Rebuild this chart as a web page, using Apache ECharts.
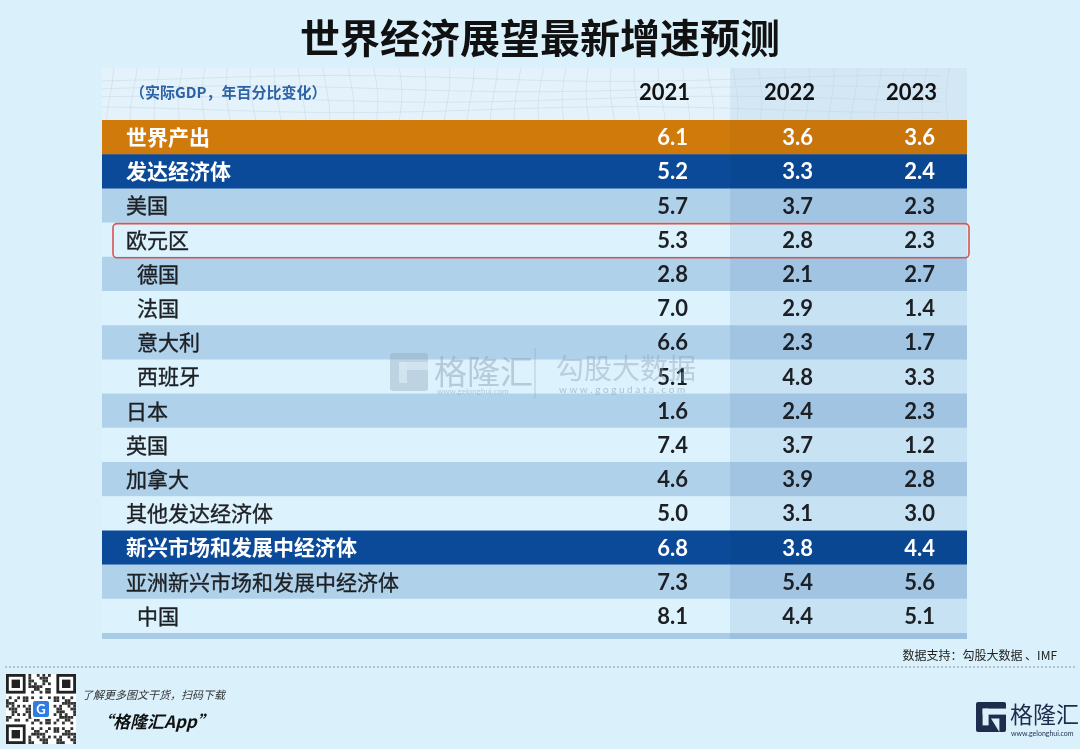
<!DOCTYPE html>
<html><head><meta charset="utf-8">
<script src="https://cdn.jsdelivr.net/npm/echarts@6/dist/echarts.min.js"></script>
<style>html,body{margin:0;padding:0;background:#daf1fc}#c{width:1080px;height:749px}</style>
</head><body><div id="c"></div>
<script>
// ---------------- data ----------------
const chartTitle = '世界经济展望最新增速预测';
const unitNote = '（实际GDP，年百分比变化）';
const years = ['2021', '2022', '2023'];
const rowLabels = ['世界产出','发达经济体','美国','欧元区','德国','法国','意大利','西班牙','日本','英国','加拿大','其他发达经济体','新兴市场和发展中经济体','亚洲新兴市场和发展中经济体','中国'];
const values2021 = [6.1, 5.2, 5.7, 5.3, 2.8, 7.0, 6.6, 5.1, 1.6, 7.4, 4.6, 5.0, 6.8, 7.3, 8.1];
const values2022 = [3.6, 3.3, 3.7, 2.8, 2.1, 2.9, 2.3, 4.8, 2.4, 3.7, 3.9, 3.1, 3.8, 5.4, 4.4];
const values2023 = [3.6, 2.4, 2.3, 2.3, 2.7, 1.4, 1.7, 3.3, 2.3, 1.2, 2.8, 3.0, 4.4, 5.6, 5.1];
const indentedRows = ['德国','法国','意大利','西班牙','中国'];
const worldRows = ['世界产出'];
const groupRows = ['发达经济体','新兴市场和发展中经济体'];
const highlightRow = '欧元区';
const sourceNote = '数据支持：勾股大数据 、IMF';

// ---------------- style / layout ----------------
const FONT = '"Noto Sans CJK SC","Noto Sans",sans-serif';
const NUMFONT = '"Lato","Noto Sans",sans-serif';
const L = { tableW: 865, labelX: 24, indentX: 35, valueRight: [586, 711, 833], shadeStart: 628 };
const C = {
  world: ['#d07a0b', '#c8750c'],
  group: ['#0b4a98', '#0a4792'],
  medium: ['#b0d1ea', '#a0c4e2'],
  light: ['#dcf2fc', '#c6e2f3'],
  header: ['#e4f3fb', '#d3e8f4'],
  bottom: ['#a9cbe6', '#9cc0df']
};
const allValues = [values2021, values2022, values2023];

// stripe kind: alternation restarts after each coloured group row
const rowKinds = (function () {
  let k = 0;
  return rowLabels.map(n => {
    if (worldRows.includes(n)) { k = 0; return 'world'; }
    if (groupRows.includes(n)) { k = 0; return 'group'; }
    const kind = k % 2 === 0 ? 'medium' : 'light';
    k++;
    return kind;
  });
})();

function renderRow(params, api) {
  const i = api.value(1);
  const h = api.size([0, 1])[1];
  const c = api.coord([0, i]);
  const x0 = c[0], y0 = c[1] - h / 2;
  const xs = api.coord([L.shadeStart, i])[0];
  const xe = api.coord([L.tableW, i])[0];
  const kind = rowKinds[i];
  const col = C[kind];
  const strong = kind === 'world' || kind === 'group';
  const txt = strong ? '#ffffff' : '#1c1f24';
  const name = rowLabels[i];
  const lx = api.coord([indentedRows.includes(name) ? L.indentX : L.labelX, i])[0];
  const children = [
    { type: 'rect', shape: { x: x0, y: y0, width: xs - x0, height: h + 0.5 }, style: { fill: col[0] } },
    { type: 'rect', shape: { x: xs, y: y0, width: xe - xs, height: h + 0.5 }, style: { fill: col[1] } },
    { type: 'text', style: { x: lx, y: c[1], text: name, fill: txt, fontFamily: FONT, fontSize: 21, fontWeight: strong ? 'bold' : 'normal', verticalAlign: 'middle', align: 'left', stroke: strong ? null : txt, lineWidth: strong ? 0 : 0.35 } }
  ];
  allValues.forEach((arr, k) => {
    const vx = api.coord([L.valueRight[k], i])[0];
    children.push({ type: 'text', style: { x: vx, y: c[1] + 1, text: arr[i].toFixed(1), fill: txt, fontFamily: NUMFONT, fontSize: 22, fontWeight: 'bold', align: 'right', verticalAlign: 'middle' } });
  });
  if (i === rowLabels.length - 1) {
    const yb = y0 + h;
    children.push({ type: 'rect', shape: { x: x0, y: yb, width: xs - x0, height: 6 }, style: { fill: C.bottom[0] } });
    children.push({ type: 'rect', shape: { x: xs, y: yb, width: xe - xs, height: 6 }, style: { fill: C.bottom[1] } });
  }
  return { type: 'group', children };
}

function renderHeader(params, api) {
  const h = api.size([0, 1])[1];
  const c = api.coord([0, 0]);
  const x0 = c[0], top0 = c[1] - h / 2;
  const hh = h * 1.52;
  const y0 = top0 - hh;
  const xs = api.coord([L.shadeStart, 0])[0];
  const xe = api.coord([L.tableW, 0])[0];
  const children = [
    { type: 'rect', shape: { x: x0, y: y0, width: xs - x0, height: hh }, style: { fill: C.header[0] } },
    { type: 'rect', shape: { x: xs, y: y0, width: xe - xs, height: hh }, style: { fill: C.header[1] } }
  ];
  for (let gx = x0 + 8; gx < xe; gx += 24) {
    const pts = [];
    for (let t = 0; t <= 4; t++) pts.push([gx + Math.sin((gx + t * 37) / 60) * 4, y0 + hh * t / 4]);
    children.push({ type: 'polyline', shape: { points: pts }, style: { stroke: '#c3d3dd', lineWidth: 0.8, opacity: 0.6, fill: null } });
  }
  for (let t = 1; t <= 4; t++) {
    const pts = [];
    for (let gx = x0; gx <= xe; gx += 40) pts.push([gx, y0 + hh * t / 5 + Math.sin(gx / 90 + t) * 3]);
    children.push({ type: 'polyline', shape: { points: pts }, style: { stroke: '#c3d3dd', lineWidth: 0.8, opacity: 0.6, fill: null } });
  }
  const yc = top0 - h * 0.78;
  children.push({ type: 'text', style: { x: api.coord([28, 0])[0], y: yc - 1, text: unitNote, fill: '#2d62a6', fontFamily: FONT, fontSize: 15, fontWeight: 'bold', verticalAlign: 'middle' } });
  years.forEach((yr, k) => {
    children.push({ type: 'text', style: { x: api.coord([L.valueRight[k] + 2, 0])[0], y: yc, text: yr, fill: '#111', fontFamily: NUMFONT, fontSize: 22, fontWeight: 'bold', align: 'right', verticalAlign: 'middle' } });
  });
  return { type: 'group', children };
}

function renderHighlight(params, api) {
  const i = api.value(1);
  const h = api.size([0, 1])[1];
  const c = api.coord([0, i]);
  const x1 = api.coord([11, i])[0];
  const x2 = api.coord([L.tableW + 2, i])[0];
  return { type: 'rect', shape: { x: x1, y: c[1] - h / 2 + 1, width: x2 - x1, height: h, r: 4 }, style: { fill: null, stroke: '#d9534f', lineWidth: 1.6 } };
}

// watermark drawn on top of the table
function renderWatermark(params, api) {
  const col = '#8ea4b8';
  return { type: 'group', children: [
    { type: 'rect', shape: { x: 390, y: 353, width: 38, height: 38, r: 3 }, style: { fill: col, opacity: 0.4 } },
    { type: 'rect', shape: { x: 399, y: 362, width: 29, height: 8 }, style: { fill: '#d4e6f1', opacity: 0.85 } },
    { type: 'rect', shape: { x: 399, y: 362, width: 8, height: 21 }, style: { fill: '#d4e6f1', opacity: 0.85 } },
    { type: 'text', style: { x: 434, y: 371, text: '格隆汇', fill: col, opacity: 0.5, fontFamily: FONT, fontSize: 33, verticalAlign: 'middle' } },
    { type: 'text', style: { x: 437, y: 391, text: 'www.gelonghui.com', fill: col, opacity: 0.5, fontFamily: NUMFONT, fontSize: 8, verticalAlign: 'middle' } },
    { type: 'line', shape: { x1: 535, y1: 348, x2: 535, y2: 398 }, style: { stroke: col, opacity: 0.5, lineWidth: 1 } },
    { type: 'text', style: { x: 556, y: 368, text: '勾股大数据', fill: col, opacity: 0.45, fontFamily: FONT, fontSize: 28, verticalAlign: 'middle' } },
    { type: 'text', style: { x: 559, y: 390, text: 'w w w . g o g u d a t a . c o m', fill: col, opacity: 0.6, fontFamily: NUMFONT, fontSize: 10, verticalAlign: 'middle' } }
  ] };
}

// ---------- decorations ----------
function qrCode(x, y, size) {
  const n = 25, m = size / n;
  const ch = [{ type: 'rect', shape: { x: x, y: y, width: size, height: size }, style: { fill: '#ffffff' } }];
  const finder = (fx, fy) => {
    ch.push({ type: 'rect', shape: { x: x + fx * m, y: y + fy * m, width: 7 * m, height: 7 * m }, style: { fill: '#222' } });
    ch.push({ type: 'rect', shape: { x: x + (fx + 1) * m, y: y + (fy + 1) * m, width: 5 * m, height: 5 * m }, style: { fill: '#fff' } });
    ch.push({ type: 'rect', shape: { x: x + (fx + 2) * m, y: y + (fy + 2) * m, width: 3 * m, height: 3 * m }, style: { fill: '#222' } });
  };
  for (let r = 0; r < n; r++) for (let q = 0; q < n; q++) {
    const inF = (r < 8 && q < 8) || (r < 8 && q > n - 9) || (r > n - 9 && q < 8);
    if (inF) continue;
    if (((r * 31 + q * 17 + r * q * 7) % 11) < 5) ch.push({ type: 'rect', shape: { x: x + q * m, y: y + r * m, width: m, height: m }, style: { fill: '#333' } });
  }
  finder(0, 0); finder(n - 7, 0); finder(0, n - 7);
  ch.push({ type: 'rect', shape: { x: x + size / 2 - 10, y: y + size / 2 - 10, width: 20, height: 20, r: 2 }, style: { fill: '#fff' } });
  ch.push({ type: 'rect', shape: { x: x + size / 2 - 8, y: y + size / 2 - 8, width: 16, height: 16, r: 2 }, style: { fill: '#2f7de1' } });
  ch.push({ type: 'text', style: { x: x + size / 2, y: y + size / 2 + 1, text: 'G', fill: '#fff', fontSize: 13, fontWeight: 'bold', fontFamily: NUMFONT, align: 'center', verticalAlign: 'middle' } });
  return { type: 'group', children: ch };
}

function gIcon(x, y, s, color) {
  return { type: 'group', children: [
    { type: 'rect', shape: { x: x, y: y, width: s, height: s, r: 2 }, style: { fill: color } },
    { type: 'rect', shape: { x: x + s * 0.22, y: y + s * 0.22, width: s * 0.78, height: s * 0.2 }, style: { fill: '#daf1fc' } },
    { type: 'rect', shape: { x: x + s * 0.22, y: y + s * 0.22, width: s * 0.2, height: s * 0.56 }, style: { fill: '#daf1fc' } },
    { type: 'polygon', shape: { points: [[x + s * 0.5, y + s * 0.55], [x + s * 0.78, y + s * 0.55], [x + s * 0.78, y + s]] }, style: { fill: '#daf1fc' } }
  ] };
}

const option = {
  backgroundColor: '#daf1fc',
  animation: false,
  title: { text: chartTitle, left: 'center', top: 13, textStyle: { fontFamily: FONT, fontSize: 40, fontWeight: 'bold', color: '#111' } },
  grid: { left: 102, right: 113, top: 120, bottom: 116 },
  xAxis: { type: 'value', min: 0, max: L.tableW, show: false },
  yAxis: { type: 'category', data: rowLabels, inverse: true, show: false },
  series: [
    { type: 'custom', renderItem: renderHeader, data: [[0, 0]], z: 1, silent: true },
    { type: 'custom', renderItem: renderRow, data: rowLabels.map((n, i) => [0, i]), z: 2, silent: true },
    { type: 'custom', renderItem: renderHighlight, data: [[0, rowLabels.indexOf(highlightRow)]], z: 3, silent: true },
    { type: 'custom', renderItem: renderWatermark, data: [[0, 0]], z: 4, silent: true }
  ],
  graphic: [
    { type: 'text', x: 1057, y: 655, style: { text: sourceNote, fill: '#222', fontFamily: FONT, fontSize: 12, align: 'right', verticalAlign: 'middle' } },
    { type: 'line', shape: { x1: 5, y1: 667, x2: 1076, y2: 667 }, style: { stroke: '#8d99a3', lineWidth: 1, lineDash: [2, 2] } },
    qrCode(6, 674, 70),
    { type: 'text', x: 82, y: 695, style: { text: '了解更多图文干货，扫码下载', fill: '#333', fontFamily: FONT, fontSize: 11, fontStyle: 'italic', verticalAlign: 'middle' } },
    { type: 'text', x: 96, y: 722, style: { text: '“格隆汇App”', fill: '#111', fontFamily: FONT, fontSize: 17, fontWeight: 'bold', fontStyle: 'italic', verticalAlign: 'middle' } },
    gIcon(976, 702, 30, '#1f2d4d'),
    { type: 'text', x: 1010, y: 714, style: { text: '格隆汇', fill: '#1f2d4d', fontFamily: FONT, fontSize: 23, verticalAlign: 'middle' } },
    { type: 'text', x: 1011, y: 734, style: { text: 'www.gelonghui.com', fill: '#1f2d4d', fontFamily: NUMFONT, fontSize: 7, verticalAlign: 'middle' } }
  ]
};

const chart = echarts.init(document.getElementById('c'), null, { renderer: 'canvas' });
chart.setOption(option);
</script>
</body></html>
